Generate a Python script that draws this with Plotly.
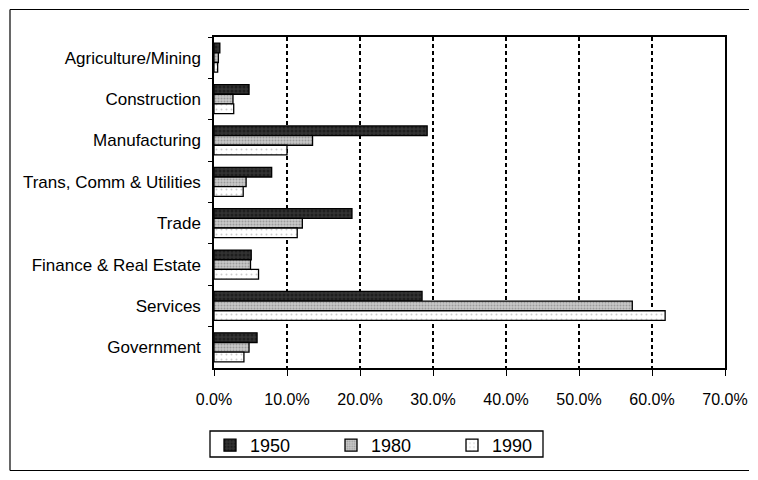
import plotly.graph_objects as go

categories = ["Agriculture/Mining", "Construction", "Manufacturing",
              "Trans, Comm & Utilities", "Trade", "Finance & Real Estate",
              "Services", "Government"]
v1950 = [0.8, 4.8, 29.2, 7.9, 18.9, 5.1, 28.5, 5.9]
v1980 = [0.6, 2.6, 13.5, 4.4, 12.1, 5.0, 57.3, 4.8]
v1990 = [0.5, 2.7, 10.0, 4.0, 11.4, 6.1, 61.8, 4.1]
series_names = ["1950", "1980", "1990"]
tick_vals = [0, 10, 20, 30, 40, 50, 60, 70]
tick_text = ["0.0%", "10.0%", "20.0%", "30.0%", "40.0%", "50.0%", "60.0%", "70.0%"]

styles = [
    dict(bg="#333333", fg="#0a0a0a", shape=".", size=4, solidity=0.45),
    dict(bg="#c8c8c8", fg="#6e6e6e", shape=".", size=3, solidity=0.35),
    dict(bg="#ffffff", fg="#9a9a9a", shape=".", size=5, solidity=0.12),
]

fig = go.Figure()
for name, vals, st in zip(series_names, [v1950, v1980, v1990], styles):
    fig.add_trace(go.Bar(
        y=categories, x=vals, name=name, orientation="h",
        marker=dict(color=st["bg"],
                    line=dict(color="black", width=1.3),
                    pattern=dict(shape=st["shape"], fgcolor=st["fg"], bgcolor=st["bg"],
                                 size=st["size"], solidity=st["solidity"])),
    ))

# page body has an 8px margin on every side, so the figure is sized to fit
# inside the 758x480 window without scrollbars
W, H = 742, 464
L, T = 206, 29
R = W + 8 - 725
B = H + 8 - 368
PW = 725 - 214
PH = 368 - 37

def px_x(p):
    return (p - 214) / PW

def px_y(p):
    return (368 - p) / PH

fig.update_layout(
    width=W, height=H,
    barmode="group", bargap=0.3, bargroupgap=0,
    paper_bgcolor="white", plot_bgcolor="white",
    margin=dict(l=L, r=R, t=T, b=B, autoexpand=False),
    font=dict(family="Liberation Sans, Arial, sans-serif", color="black"),
    showlegend=True,
    legend=dict(orientation="h", x=px_x(210), xanchor="left", y=px_y(427), yanchor="top",
                borderwidth=0, bgcolor="rgba(0,0,0,0)",
                font=dict(size=18), entrywidth=76, itemwidth=30,
                traceorder="normal", tracegroupgap=0),
    xaxis=dict(range=[0, 70], tickvals=tick_vals, ticktext=tick_text,
               showgrid=True, gridcolor="black", griddash="4px,3px", gridwidth=2,
               showline=True, linecolor="black", linewidth=1.5, mirror=True,
               ticks="outside", ticklen=6, tickcolor="black",
               tickfont=dict(size=16), ticklabelstandoff=10, zeroline=False,
               fixedrange=True),
    yaxis=dict(autorange="reversed", type="category",
               showline=True, linecolor="black", linewidth=1.5, mirror=True,
               ticks="outside", ticklen=4, tickson="boundaries", tickcolor="black",
               tickfont=dict(size=17), ticklabelstandoff=8, showgrid=False,
               fixedrange=True),
)

# outer frame around the chart (top, left and bottom edges; right edge is off the page)
frame_line = dict(color="black", width=1.2)
for (xa, ya, xb, yb) in [(10, 9.5, 749, 9.5), (10, 9.5, 10, 470.5), (10, 470.5, 749, 470.5)]:
    fig.add_shape(type="line", xref="paper", yref="paper",
                  x0=px_x(xa), y0=px_y(ya), x1=px_x(xb), y1=px_y(yb),
                  line=frame_line, layer="below")
# legend box
fig.add_shape(type="rect", xref="paper", yref="paper",
              x0=px_x(210), x1=px_x(543), y0=px_y(457), y1=px_y(431),
              line=dict(color="black", width=1.3), fillcolor="white",
              layer="below")

fig.write_html("out.html")
